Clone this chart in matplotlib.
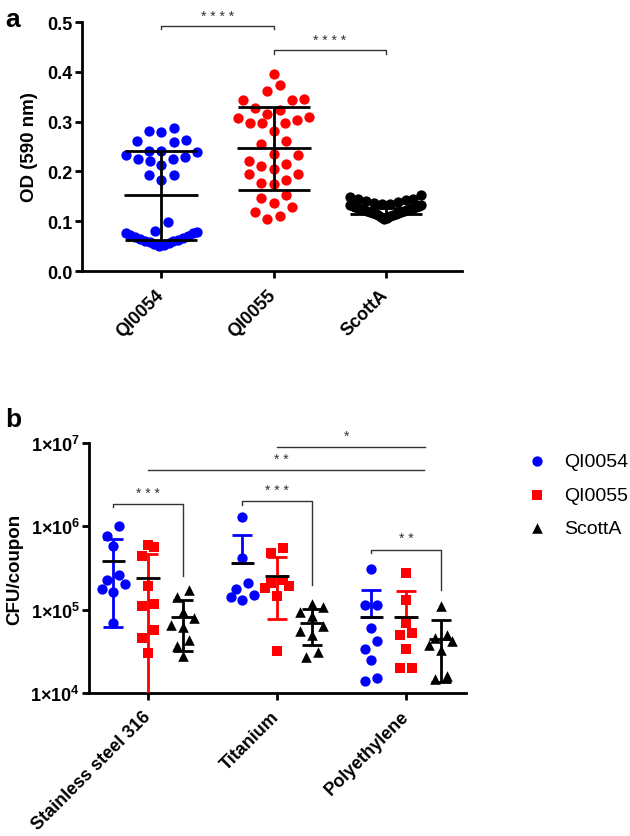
import matplotlib
matplotlib.use("Agg")
import matplotlib.pyplot as plt
import numpy as np
from matplotlib.ticker import FuncFormatter, NullLocator

plt.rcParams["font.family"] = ["Liberation Sans", "DejaVu Sans"]
plt.rcParams["font.weight"] = "bold"
plt.rcParams["axes.labelweight"] = "bold"
plt.rcParams["mathtext.fontset"] = "custom"
plt.rcParams["mathtext.rm"] = "Liberation Sans"
plt.rcParams["mathtext.bf"] = "Liberation Sans:bold"

BLUE = "#0000ff"
RED = "#ff0000"
BLACK = "#000000"

# ---- panel a: OD (590 nm) per strain ----
strains = ["QI0054", "QI0055", "ScottA"]
od_qi0054 = [0.281, 0.264, 0.259, 0.261, 0.279, 0.287,
             0.242, 0.232, 0.225, 0.220, 0.212, 0.225, 0.229, 0.238, 0.242,
             0.192, 0.182, 0.192, 0.098, 0.077, 0.079, 0.081,
             0.072, 0.069, 0.065, 0.060, 0.055, 0.051, 0.053, 0.057, 0.060,
             0.067, 0.070, 0.076, 0.062, 0.058]
od_qi0055 = [0.395, 0.373, 0.361, 0.343, 0.343, 0.346, 0.327, 0.323, 0.316,
             0.309, 0.303, 0.297, 0.297, 0.298, 0.308, 0.282, 0.256, 0.262,
             0.234, 0.232, 0.220, 0.211, 0.204, 0.214, 0.195, 0.194, 0.182,
             0.174, 0.177, 0.146, 0.153, 0.137, 0.119, 0.110, 0.104, 0.129]
od_scotta = [0.152, 0.148, 0.145, 0.144, 0.142, 0.140, 0.139, 0.137, 0.135,
             0.134, 0.133, 0.132, 0.131, 0.130, 0.129, 0.128, 0.127, 0.126,
             0.125, 0.124, 0.123, 0.122, 0.121, 0.120, 0.119, 0.118, 0.117,
             0.116, 0.115, 0.114, 0.113, 0.112, 0.110, 0.108, 0.106, 0.104]
od_colors = [BLUE, RED, BLACK]
sig_a = [(0, 1, 0.493, "* * * *"), (1, 2, 0.443, "* * * *")]

# ---- panel b: CFU/coupon per surface ----
surfaces = ["Stainless steel 316", "Titanium", "Polyethylene"]
cfu_qi0054 = [
    [1.0e6, 7.6e5, 5.75e5, 2.57e5, 2.29e5, 2.04e5, 1.78e5, 1.62e5, 6.9e4],
    [1.3e6, 4.2e5, 2.1e5, 1.75e5, 1.5e5, 1.4e5, 1.3e5],
    [3.08e5, 1.14e5, 1.14e5, 6.1e4, 4.2e4, 3.4e4, 2.5e4, 1.4e4, 1.5e4],
]
cfu_qi0055 = [
    [5.97e5, 5.70e5, 4.37e5, 1.91e5, 1.17e5, 1.12e5, 5.75e4, 4.57e4, 3.02e4],
    [5.5e5, 4.8e5, 2.3e5, 2.1e5, 1.9e5, 1.8e5, 1.45e5, 3.2e4],
    [2.73e5, 1.31e5, 6.9e4, 5.3e4, 5.0e4, 3.4e4, 2.0e4, 2.0e4],
]
cfu_scotta = [
    [1.74e5, 1.41e5, 9.5e4, 7.9e4, 6.6e4, 6.2e4, 4.3e4, 3.7e4, 2.8e4],
    [1.17e5, 1.07e5, 9.3e4, 8.3e4, 6.4e4, 5.5e4, 4.9e4, 3.1e4, 2.7e4],
    [1.12e5, 5.0e4, 4.6e4, 4.2e4, 3.8e4, 3.3e4, 1.6e4, 1.47e4],
]
cfu_series = [cfu_qi0054, cfu_qi0055, cfu_scotta]
cfu_markers = ["o", "s", "^"]
cfu_sizes = [55, 48, 58]
# (group, x1 offset, x2 offset, bracket log-height, right leg log-end, label)
sig_b = [(0, -0.27, 0.27, 6.27, 5.40, "* * *"),
         (1, -0.27, 0.27, 6.30, 5.29, "* * *"),
         (2, -0.27, 0.27, 5.72, 5.23, "* *")]
# long comparison lines: (x start, x end, log-height, label)
lines_b = [(0.0, 2.14, 6.677, "* *"), (1.0, 2.15, 6.953, "*")]


def swarm(vals, center, bin_h, dx, maxhalf, log=False):
    """GraphPad-like scatter: points binned by value, spread sideways."""
    v = np.log10(vals) if log else np.asarray(vals, float)
    order = np.argsort(v)
    xs = np.zeros(len(v))
    i = 0
    while i < len(order):
        j = i
        while j < len(order) and v[order[j]] - v[order[i]] < bin_h:
            j += 1
        row = order[i:j]
        n = len(row)
        step = dx if n <= 1 else min(dx, 2 * maxhalf / (n - 1))
        pos = sorted((np.arange(n) - (n - 1) / 2) * step, key=abs)
        for k, idx in enumerate(row):
            xs[idx] = center + pos[k]
        i = j
    return xs


def style_axes(ax):
    for sp in ["top", "right"]:
        ax.spines[sp].set_visible(False)
    for sp in ["left", "bottom"]:
        ax.spines[sp].set_linewidth(2)
    ax.tick_params(direction="out", length=5, width=2, labelsize=13)
    ax.tick_params(axis="y", pad=1.5)
    ax.tick_params(axis="x", pad=10)


fig = plt.figure(figsize=(6.3, 8.37), dpi=100)

# ======== panel a ========
axa = fig.add_axes([0.130, 0.675, 0.603, 0.2975])
for i, (vals, col) in enumerate(zip([od_qi0054, od_qi0055, od_scotta], od_colors)):
    xs = swarm(vals, i, 0.03, 0.11, 0.32)
    axa.scatter(xs, vals, s=55, color=col, lw=0, zorder=3)
    m, sd = np.mean(vals), np.std(vals, ddof=1)
    axa.errorbar(i, m, yerr=sd, color="k", capsize=26, capthick=2,
                 elinewidth=2, zorder=4)
    axa.hlines(m, i - 0.33, i + 0.33, color="k", lw=2, zorder=4)

for x1, x2, y, lab in sig_a:
    axa.plot([x1, x1, x2, x2], [y - 0.007, y, y, y - 0.007], color="#333333",
             lw=1, clip_on=False)
    axa.text((x1 + x2) / 2, y + 0.006, lab, ha="center", va="bottom",
             fontsize=10, fontweight="normal", color="#333333")

axa.set_xlim(-0.71, 2.68)
axa.set_ylim(0, 0.5)
axa.set_yticks([0.0, 0.1, 0.2, 0.3, 0.4, 0.5])
axa.set_yticklabels([f"{t:.1f}" for t in [0.0, 0.1, 0.2, 0.3, 0.4, 0.5]])
axa.set_xticks([0, 1, 2])
axa.set_xticklabels(strains, rotation=45, ha="right", va="center",
                    rotation_mode="anchor")
axa.set_ylabel("OD (590 nm)", fontsize=13.5, fontweight="bold", labelpad=7)
style_axes(axa)
fig.text(0.008, 0.99, "a", fontsize=19, fontweight="bold", va="top")

# ======== panel b ========
axb = fig.add_axes([0.1413, 0.1709, 0.5984, 0.2986])
axb.set_yscale("log")
offsets = [-0.27, 0.0, 0.27]
colors_b = [BLUE, RED, BLACK]
handles = []
for s, (series, col, mk, sz) in enumerate(zip(cfu_series, colors_b, cfu_markers, cfu_sizes)):
    for g, vals in enumerate(series):
        cx = g + offsets[s]
        xs = swarm(vals, cx, 0.12, 0.09, 0.09, log=True)
        h = axb.scatter(xs, vals, s=sz, marker=mk, color=col, lw=0, zorder=3)
        m, sd = np.mean(vals), np.std(vals, ddof=1)
        # on a log axis a negative lower bound is not drawn
        lo = sd if m - sd > 0 else 0.0
        axb.errorbar(cx, m, yerr=[[lo], [sd]], color=col, capsize=7,
                     capthick=2, elinewidth=2, zorder=4)
        axb.hlines(m, cx - 0.09, cx + 0.09, color="k", lw=2, zorder=5)
    handles.append(h)

for g, o1, o2, yl, yr, lab in sig_b:
    x1, x2 = g + o1, g + o2
    axb.plot([x1, x1, x2, x2], [10 ** (yl - 0.04), 10 ** yl, 10 ** yl, 10 ** yr],
             color="#333333", lw=1, clip_on=False)
    axb.text((x1 + x2) / 2, 10 ** (yl + 0.05), lab, ha="center", va="bottom",
             fontsize=10, fontweight="normal", color="#333333")
for x1, x2, yl, lab in lines_b:
    axb.plot([x1, x2], [10 ** yl, 10 ** yl], color="#333333", lw=1, clip_on=False)
    axb.text((x1 + x2) / 2 - 0.04, 10 ** (yl + 0.05), lab, ha="center", va="bottom",
             fontsize=10, fontweight="normal", color="#333333")

axb.set_xlim(-0.457, 2.465)
axb.set_ylim(1e4, 1e7)
axb.set_yticks([1e4, 1e5, 1e6, 1e7])
axb.yaxis.set_major_formatter(FuncFormatter(
    lambda v, p: r"$\mathbf{1{\times}10^{%d}}$" % round(np.log10(v))))
axb.yaxis.set_minor_locator(NullLocator())
axb.set_xticks([0, 1, 2])
axb.set_xticklabels(surfaces, rotation=45, ha="right", va="center",
                    rotation_mode="anchor")
axb.set_ylabel("CFU/coupon", fontsize=13.5, fontweight="bold", labelpad=5)
style_axes(axb)
fig.text(0.008, 0.512, "b", fontsize=19, fontweight="bold", va="top")

fig.legend(handles, ["QI0054", "QI0055", "ScottA"], loc="upper left",
           bbox_to_anchor=(0.822, 0.4695), frameon=False, borderpad=0,
           handlelength=1.0, handletextpad=0.9, labelspacing=0.82,
           scatterpoints=1, prop={"size": 14, "weight": "normal"})

fig.savefig("out.png", dpi=100)
